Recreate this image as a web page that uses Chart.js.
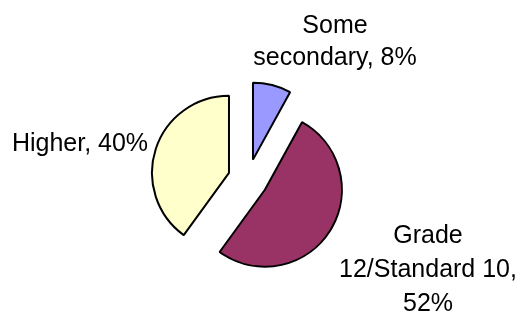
<!DOCTYPE html>
<html>
<head>
<meta charset="utf-8">
<script src="https://cdn.jsdelivr.net/npm/chart.js@4/dist/chart.umd.min.js"></script>
<style>
  html, body { margin: 0; padding: 0; background: #fff; }
  #wrap { width: 521px; height: 314px; position: relative; }
</style>
</head>
<body>
<div id="wrap"><canvas id="pieChart"></canvas></div>
<script>
// data
const categories = ['Some secondary', 'Grade 12/Standard 10', 'Higher'];
const shares = [8, 52, 40];
const labelLines = [
    ['Some', 'secondary, 8%'],
    ['Grade', '12/Standard 10,', '52%'],
    ['Higher, 40%']
];
const sliceColours = ['#9999FF', '#993366', '#FFFFCC'];

// where each label block sits: centre x and first baseline
const labelSpots = [
    { x: 335, y: 33, lh: 32 },
    { x: 428, y: 243, lh: 34 },
    { x: 80, y: 151, lh: 32 }
];
const explodeDistance = 20;

// pull every slice out along its bisector without growing its radius
// (the built-in offset option also enlarges the arcs)
const explodeSlices = {
    id: 'explodeSlices',
    afterDatasetUpdate(chart, args) {
        args.meta.data.forEach(arc => {
            const mid = (arc.startAngle + arc.endAngle) / 2;
            arc.x += Math.cos(mid) * explodeDistance;
            arc.y += Math.sin(mid) * explodeDistance;
        });
    }
};

const outsideLabels = {
    id: 'outsideLabels',
    afterDatasetsDraw(chart) {
        const ctx = chart.ctx;
        ctx.save();
        ctx.font = '25px "Liberation Sans", Arial, sans-serif';
        ctx.fillStyle = '#000';
        ctx.textAlign = 'center';
        ctx.textBaseline = 'alphabetic';
        labelLines.forEach((lines, i) => {
            const spot = labelSpots[i];
            lines.forEach((line, j) => {
                ctx.fillText(line, spot.x, spot.y + j * spot.lh);
            });
        });
        ctx.restore();
    }
};

new Chart(document.getElementById('pieChart').getContext('2d'), {
    type: 'pie',
    data: {
        labels: categories,
        datasets: [{
            data: shares,
            backgroundColor: sliceColours,
            borderColor: '#000',
            borderWidth: 2,
            radius: 77
        }]
    },
    options: {
        responsive: true,
        maintainAspectRatio: false,
        animation: false,
        layout: {
            padding: { left: 0, right: 25, top: 44, bottom: 0 }
        },
        plugins: {
            legend: { display: false },
            tooltip: { enabled: false }
        }
    },
    plugins: [explodeSlices, outsideLabels]
});
</script>
</body>
</html>
